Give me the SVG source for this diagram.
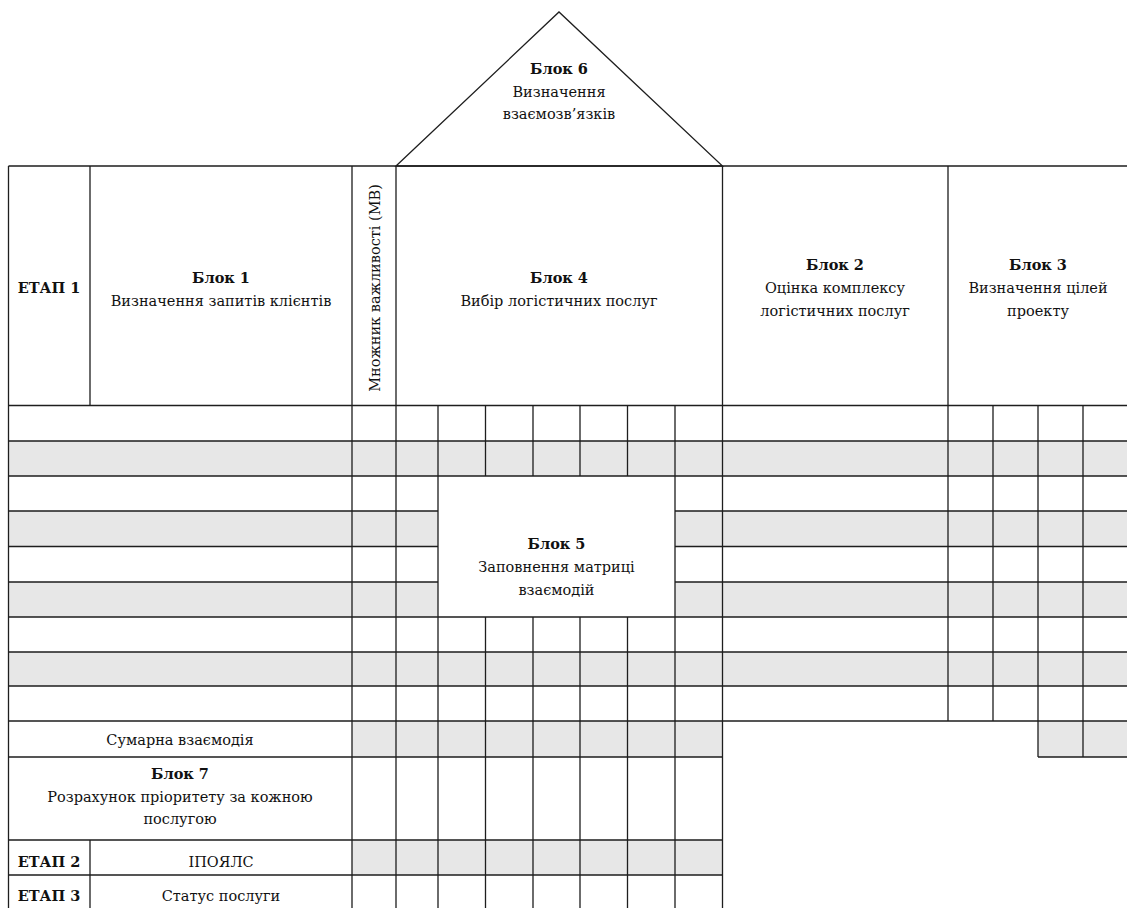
<svg xmlns="http://www.w3.org/2000/svg" width="1127" height="908" viewBox="0 0 1127 908">
  <style>
    .ln { stroke: #1e1e1e; stroke-width: 1.3; fill: none; }
    .gray { fill: #e7e7e7; }
    text { font-family: "DejaVu Serif", "Liberation Serif", serif; font-size: 14.5px; fill: #111; text-anchor: middle; }
    .b { font-weight: bold; }
  </style>
  <rect width="1127" height="908" fill="#ffffff"/>

  <!-- shaded rows -->
  <g id="shading">
    <rect class="gray" x="8.5" y="441" width="1119" height="35"/>
    <rect class="gray" x="8.5" y="511" width="1119" height="35.5"/>
    <rect class="gray" x="8.5" y="582" width="1119" height="35"/>
    <rect class="gray" x="8.5" y="652" width="1119" height="34"/>
    <rect class="gray" x="352" y="721" width="370.5" height="36"/>
    <rect class="gray" x="1038" y="721" width="89" height="36"/>
    <rect class="gray" x="352" y="840" width="370.5" height="35"/>
  </g>

  <!-- Block 6: roof -->
  <g id="block6">
    <polygon class="ln" points="396,166 559,12 722.5,166" fill="#ffffff"/>
    <text class="b" x="559" y="74">Блок 6</text>
    <text x="559" y="97">Визначення</text>
    <text x="559" y="119">взаємозв’язків</text>
  </g>

  <!-- Block 5: interaction matrix area -->
  <g id="block5">
    <rect x="438" y="476" width="237" height="141" fill="#ffffff"/>
    <text class="b" x="556.5" y="549">Блок 5</text>
    <text x="556.5" y="572">Заповнення матриці</text>
    <text x="556.5" y="595">взаємодій</text>
  </g>

  <!-- grid lines -->
  <g id="grid" class="ln">
    <!-- horizontal -->
    <path d="M8.5 166H1127 M8.5 405.5H1127 M8.5 441H1127 M8.5 476H1127
             M8.5 511H438 M675 511H1127 M8.5 546.5H438 M675 546.5H1127 M8.5 582H438 M675 582H1127
             M8.5 617H1127 M8.5 652H1127 M8.5 686H1127 M8.5 721H1127
             M8.5 757H722.5 M1038 757H1127 M8.5 840H722.5 M8.5 875H722.5"/>
    <!-- vertical -->
    <path d="M8.5 166V908 M90 166V405.5 M90 840V908 M352 166V908 M396 166V908
             M438 405.5V908 M675 405.5V908 M722.5 166V908
             M485.5 405.5V476 M533 405.5V476 M580 405.5V476 M627.5 405.5V476
             M485.5 617V908 M533 617V908 M580 617V908 M627.5 617V908
             M948 166V721 M993 405.5V721 M1038 405.5V757 M1083 405.5V757"/>
  </g>

  <g id="etap1">
    <text class="b" x="49" y="293">ЕТАП 1</text>
  </g>
  <g id="block1">
    <text class="b" x="221" y="283">Блок 1</text>
    <text x="221" y="306">Визначення запитів клієнтів</text>
  </g>
  <g id="mv">
    <text transform="translate(380 288) rotate(-90)" x="0" y="0">Множник важливості (МВ)</text>
  </g>
  <g id="block4">
    <text class="b" x="559" y="283">Блок 4</text>
    <text x="559" y="306">Вибір логістичних послуг</text>
  </g>
  <g id="block2">
    <text class="b" x="835" y="270">Блок 2</text>
    <text x="835" y="293">Оцінка комплексу</text>
    <text x="835" y="316">логістичних послуг</text>
  </g>
  <g id="block3">
    <text class="b" x="1038" y="270">Блок 3</text>
    <text x="1038" y="293">Визначення цілей</text>
    <text x="1038" y="316">проекту</text>
  </g>
  <g id="sum">
    <text x="180" y="745">Сумарна взаємодія</text>
  </g>
  <g id="block7">
    <text class="b" x="180" y="779">Блок 7</text>
    <text x="180" y="802">Розрахунок пріоритету за кожною</text>
    <text x="180" y="824">послугою</text>
  </g>
  <g id="etap2">
    <text class="b" x="49" y="867">ЕТАП 2</text>
    <text x="221" y="867">ІПОЯЛС</text>
  </g>
  <g id="etap3">
    <text class="b" x="49" y="901">ЕТАП 3</text>
    <text x="221" y="901">Статус послуги</text>
  </g>
</svg>
